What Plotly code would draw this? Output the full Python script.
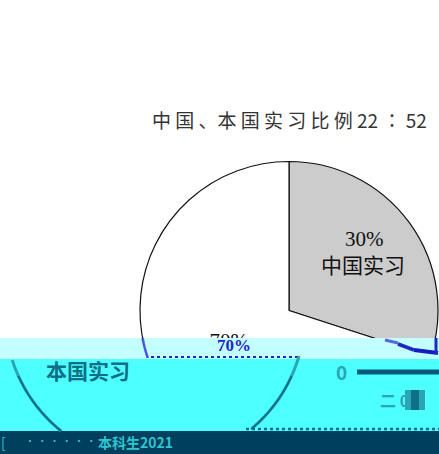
"""China / home country internship share pie, with the damaged bands of the scan"""
import numpy as np
import plotly.graph_objects as go

# ── Data ──────────────────────────────────────────────────────────────────────

slice_names = ["中国实习", "本国实习"]
slice_shares = [30, 70]
slice_colors = ["#CCCCCC", "#FFFFFF"]
slice_texts = ["", "70%<br>本国实习"]
title_text = "中 国 、本 国 实 习 比 例 22 ∶ 52"

# ── Page geometry, pixels from the top left ───────────────────────────────────

W, H = 439, 470
PIE_X, PIE_Y, PIE_R = 289, 310.5, 149
SHIFT_X, SHIFT_Y, SHIFT_R = 155, 314, 150


def px(x):
    return x / W


def py(y):
    return 1 - y / H


def rect(x0, y0, x1, y1, color):
    return dict(type="rect", xref="paper", yref="paper", x0=px(x0), x1=px(x1),
                y0=py(y0), y1=py(y1), fillcolor=color, line_width=0, layer="above")


def segment(x0, y0, x1, y1, color, width=1, dash="solid"):
    return dict(type="line", xref="paper", yref="paper", x0=px(x0), x1=px(x1),
                y0=py(y0), y1=py(y1), layer="above",
                line=dict(color=color, width=width, dash=dash))


def arc(cx, cy, r, top, bottom, side, color, width):
    """Polyline along a circle between two heights; side is -1 or 1."""
    ys = np.linspace(top, bottom, 30)
    xs = cx + side * np.sqrt(r ** 2 - (ys - cy) ** 2)
    path = "M" + " L".join(f"{px(x):.4f},{py(y):.4f}" for x, y in zip(xs, ys))
    return dict(type="path", path=path, xref="paper", yref="paper", layer="above",
                line=dict(color=color, width=width))


def label(x, y, text, size, color, family="Noto Sans CJK SC", bold=False):
    if bold:
        text = f"<b>{text}</b>"
    return dict(x=px(x), y=py(y), xref="paper", yref="paper", text=text, showarrow=False,
                font=dict(size=size, color=color, family=family),
                xanchor="center", yanchor="middle")


SERIF = "Liberation Serif, Noto Sans CJK SC"
BLUE = "#1E28C8"
TEAL = "#0E6F86"
MID = "#2AA5B5"

fig = go.Figure(go.Pie(
    labels=slice_names,
    values=slice_shares,
    text=slice_texts,
    textinfo="text",
    textposition="inside",
    insidetextorientation="horizontal",
    insidetextfont=dict(size=21, color="#111111", family=SERIF),
    sort=False,
    direction="clockwise",
    rotation=0,
    showlegend=False,
    marker=dict(colors=slice_colors, line=dict(color="#111111", width=1.2)),
    domain=dict(x=[px(PIE_X - PIE_R), px(PIE_X + PIE_R)],
                y=[py(PIE_Y + PIE_R), py(PIE_Y - PIE_R)]),
))

shapes = [
    rect(0, 338, W, 359, "#C4FFFF"),
    rect(0, 359, W, 431, "#4DFFFF"),
    rect(0, 431, W, H, "#00405F"),
    # pie edge, broken up in the light band
    arc(PIE_X, PIE_Y, PIE_R, 338, 358, -1, "#4A55D8", 2.5),
    segment(151, 357, 298, 357, BLUE, 2, "dot"),
    segment(385, 340, 398, 343, "#5A64DC", 3),
    segment(398, 344, 414, 350, BLUE, 3.5),
    segment(414, 350, 438, 353, "#141EC0", 4),
    segment(436, 338, 436, 354, BLUE, 3),
    # the same circle, displaced, in the cyan band
    arc(SHIFT_X, SHIFT_Y, SHIFT_R, 360, 431, -1, MID, 3),
    arc(SHIFT_X, SHIFT_Y, SHIFT_R, 376, 431, -1, TEAL, 2),
    arc(SHIFT_X, SHIFT_Y, SHIFT_R, 356, 429, 1, MID, 3),
    arc(SHIFT_X, SHIFT_Y, SHIFT_R, 376, 429, 1, TEAL, 2),
    segment(246, 429, 439, 429, TEAL, 2.5, "dot"),
    segment(357, 372, 439, 372, "#0A5A78", 5),
    rect(405, 390, 425, 410, MID),
    rect(411, 390, 419, 410, TEAL),
]

annotations = [
    label(289, 120, title_text, 19, "#333333", "Noto Sans CJK SC"),
    label(364, 239, "30%", 21, "#111111", SERIF),
    label(363, 266, "中国实习", 21, "#111111", SERIF),
    label(234, 345, "70%", 17, BLUE, SERIF, bold=True),
    label(88, 370, "本国实习", 21, TEAL, bold=True),
    label(341, 371, "0", 19, MID, bold=True),
    label(394, 400, "二 0", 16, MID, bold=True),
    label(135, 442, "本科生2021", 14, "#2FC4D0", bold=True),
    label(3, 442, "[", 14, "#2FC4D0"),
    label(60, 440, "· · · · · ·", 10, "#2FC4D0"),
]

fig.update_layout(
    width=W,
    height=H,
    autosize=False,
    margin=dict(l=0, r=0, t=0, b=0),
    paper_bgcolor="#FFFFFF",
    shapes=shapes,
    annotations=annotations,
)

fig.write_html(
    "out.html",
    config=dict(displayModeBar=False),
    post_script="document.body.style.margin='0';document.body.style.overflow='hidden';"
                "document.documentElement.style.overflow='hidden';",
)
